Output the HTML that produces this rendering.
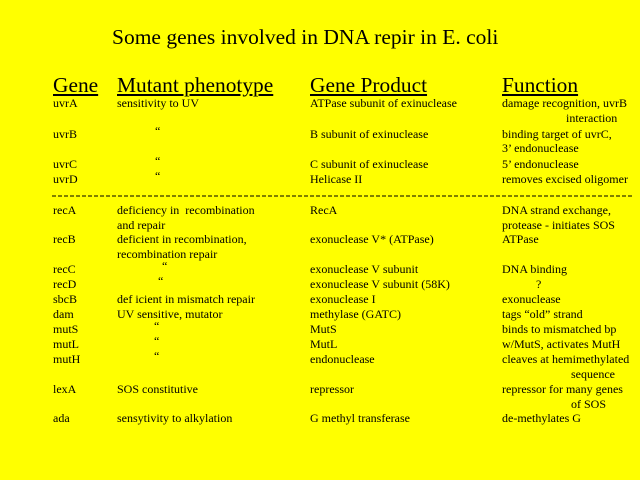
<!DOCTYPE html>
<html><head><meta charset="utf-8"><style>
html,body{margin:0;padding:0}
body{width:640px;height:480px;background:#ffff00;position:relative;overflow:hidden;font-family:"Liberation Serif",serif;color:#000}
.t{position:absolute;font-size:12px;line-height:14px;white-space:nowrap}
.h{position:absolute;font-size:21.4px;line-height:22px;white-space:nowrap;text-decoration:underline}
</style></head><body>
<div class="t" style="left:112px;top:25px;font-size:21.5px;line-height:24px">Some genes involved in DNA repir in E. coli</div>
<div class="h" style="left:53px;top:74px">Gene</div>
<div class="h" style="left:117px;top:74px">Mutant phenotype</div>
<div class="h" style="left:310px;top:74px">Gene Product</div>
<div class="h" style="left:502px;top:74px">Function</div>

<div class="t" style="left:53px;top:96px">uvrA</div>
<div class="t" style="left:117px;top:96px">sensitivity to UV</div>
<div class="t" style="left:310px;top:96px">ATPase subunit of exinuclease</div>
<div class="t" style="left:502px;top:96px">damage recognition, uvrB</div>
<div class="t" style="left:566px;top:111px">interaction</div>

<div class="t" style="left:53px;top:127px">uvrB</div>
<div class="t" style="left:155px;top:124px">“</div>
<div class="t" style="left:310px;top:127px">B subunit of exinuclease</div>
<div class="t" style="left:502px;top:127px">binding target of uvrC,</div>
<div class="t" style="left:502px;top:141px">3’ endonuclease</div>

<div class="t" style="left:53px;top:157px">uvrC</div>
<div class="t" style="left:155px;top:154px">“</div>
<div class="t" style="left:310px;top:157px">C subunit of exinuclease</div>
<div class="t" style="left:502px;top:157px">5’ endonuclease</div>

<div class="t" style="left:53px;top:172px">uvrD</div>
<div class="t" style="left:155px;top:169px">“</div>
<div class="t" style="left:310px;top:172px">Helicase II</div>
<div class="t" style="left:502px;top:172px">removes excised oligomer</div>

<svg style="position:absolute;left:0;top:0" width="640" height="480"><line x1="52" y1="196" x2="633" y2="196" stroke="#000" stroke-width="1" stroke-dasharray="4,2"/></svg>

<div class="t" style="left:53px;top:203px">recA</div>
<div class="t" style="left:117px;top:203px">deficiency in&nbsp; recombination</div>
<div class="t" style="left:117px;top:218px">and repair</div>
<div class="t" style="left:310px;top:203px">RecA</div>
<div class="t" style="left:502px;top:203px">DNA strand exchange,</div>
<div class="t" style="left:502px;top:218px">protease - initiates SOS</div>

<div class="t" style="left:53px;top:232px">recB</div>
<div class="t" style="left:117px;top:232px">deficient in recombination,</div>
<div class="t" style="left:117px;top:247px">recombination repair</div>
<div class="t" style="left:310px;top:232px">exonuclease V* (ATPase)</div>
<div class="t" style="left:502px;top:232px">ATPase</div>

<div class="t" style="left:53px;top:262px">recC</div>
<div class="t" style="left:162px;top:259px">“</div>
<div class="t" style="left:310px;top:262px">exonuclease V subunit</div>
<div class="t" style="left:502px;top:262px">DNA binding</div>

<div class="t" style="left:53px;top:277px">recD</div>
<div class="t" style="left:158px;top:274px">“</div>
<div class="t" style="left:310px;top:277px">exonuclease V subunit (58K)</div>
<div class="t" style="left:536px;top:277px">?</div>

<div class="t" style="left:53px;top:292px">sbcB</div>
<div class="t" style="left:117px;top:292px">def icient in mismatch repair</div>
<div class="t" style="left:310px;top:292px">exonuclease I</div>
<div class="t" style="left:502px;top:292px">exonuclease</div>

<div class="t" style="left:53px;top:307px">dam</div>
<div class="t" style="left:117px;top:307px">UV sensitive, mutator</div>
<div class="t" style="left:310px;top:307px">methylase (GATC)</div>
<div class="t" style="left:502px;top:307px">tags “old” strand</div>

<div class="t" style="left:53px;top:322px">mutS</div>
<div class="t" style="left:154px;top:319px">“</div>
<div class="t" style="left:310px;top:322px">MutS</div>
<div class="t" style="left:502px;top:322px">binds to mismatched bp</div>

<div class="t" style="left:53px;top:337px">mutL</div>
<div class="t" style="left:154px;top:334px">“</div>
<div class="t" style="left:310px;top:337px">MutL</div>
<div class="t" style="left:502px;top:337px">w/MutS, activates MutH</div>

<div class="t" style="left:53px;top:352px">mutH</div>
<div class="t" style="left:154px;top:349px">“</div>
<div class="t" style="left:310px;top:352px">endonuclease</div>
<div class="t" style="left:502px;top:352px">cleaves at hemimethylated</div>
<div class="t" style="left:571px;top:367px">sequence</div>

<div class="t" style="left:53px;top:382px">lexA</div>
<div class="t" style="left:117px;top:382px">SOS constitutive</div>
<div class="t" style="left:310px;top:382px">repressor</div>
<div class="t" style="left:502px;top:382px">repressor for many genes</div>
<div class="t" style="left:571px;top:397px">of SOS</div>

<div class="t" style="left:53px;top:411px">ada</div>
<div class="t" style="left:117px;top:411px">sensytivity to alkylation</div>
<div class="t" style="left:310px;top:411px">G methyl transferase</div>
<div class="t" style="left:502px;top:411px">de-methylates G</div>
</body></html>
